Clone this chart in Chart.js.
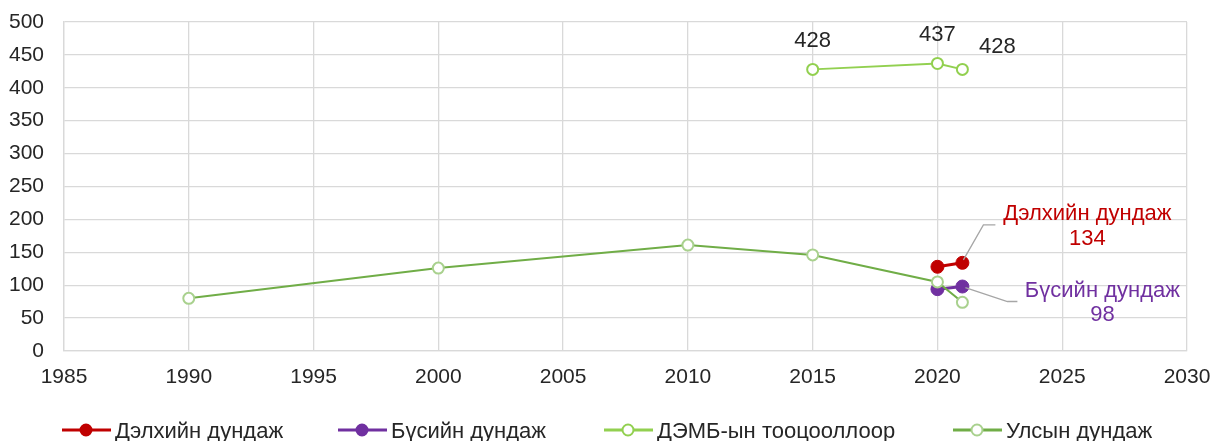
<!DOCTYPE html>
<html lang="mn">
<head>
  <meta charset="UTF-8">
  <title>Дэлхийн, бүсийн болон улсын дундаж</title>
  <script src="https://cdn.jsdelivr.net/npm/chart.js@4.4.1/dist/chart.umd.min.js"></script>
  <style>
    body { margin: 0; background: #fff; }
    .wrap { width: 1214px; height: 441px; }
  </style>
</head>
<body>
  <div class="wrap"><canvas id="chart"></canvas></div>
  <script>
    // data
    const worldYears = [2020, 2021];
    const worldValues = [128, 134];
    const regionYears = [2020, 2021];
    const regionValues = [94, 98];
    const whoYears = [2015, 2020, 2021];
    const whoValues = [428, 437, 428];
    const nationalYears = [1990, 2000, 2010, 2015, 2020, 2021];
    const nationalValues = [80, 126, 161, 146, 105, 74];
    const seriesNames = ['Дэлхийн дундаж', 'Бүсийн дундаж', 'ДЭМБ-ын тооцооллоор', 'Улсын дундаж'];

    const pts = (xs, ys) => xs.map((x, i) => ({ x: x, y: ys[i] }));
    const font = '"Liberation Sans", Arial, sans-serif';

    // labels drawn next to points, plus legend at the bottom
    const extras = {
      id: 'extras',
      afterDatasetsDraw(chart) {
        const c = chart.ctx;
        const xs = chart.scales.x, ys = chart.scales.y;
        c.save();
        c.font = '22px ' + font;
        c.textAlign = 'center';
        c.textBaseline = 'middle';

        // WHO labels
        c.fillStyle = '#262626';
        c.fillText(whoValues[0], xs.getPixelForValue(whoYears[0]), 41);
        c.fillText(whoValues[1], xs.getPixelForValue(whoYears[1]), 35);
        c.fillText(whoValues[2], xs.getPixelForValue(whoYears[2]) + 35, 47);

        // world label with leader
        const wx = xs.getPixelForValue(worldYears[1]), wy = ys.getPixelForValue(worldValues[1]);
        c.strokeStyle = '#A6A6A6';
        c.lineWidth = 1.3;
        c.beginPath();
        c.moveTo(wx + 1, wy - 3);
        c.lineTo(wx + 21, wy - 38);
        c.lineTo(wx + 33, wy - 38);
        c.stroke();
        c.fillStyle = '#C00000';
        c.fillText(seriesNames[0], wx + 125, 214);
        c.fillText(worldValues[1], wx + 125, 239);

        // region label with leader
        const rx = xs.getPixelForValue(regionYears[1]), ry = ys.getPixelForValue(regionValues[1]);
        c.beginPath();
        c.moveTo(rx + 3, ry + 1);
        c.lineTo(rx + 45, ry + 15);
        c.lineTo(rx + 55, ry + 15);
        c.stroke();
        c.fillStyle = '#7030A0';
        c.fillText(seriesNames[1], rx + 140, 291);
        c.fillText(regionValues[1], rx + 140, 315);

        // legend
        const items = [
          { x: 62, ds: chart.data.datasets[0] },
          { x: 338, ds: chart.data.datasets[1] },
          { x: 604, ds: chart.data.datasets[2] },
          { x: 953, ds: chart.data.datasets[3] }
        ];
        const ly = 430;
        c.textAlign = 'left';
        items.forEach(it => {
          c.strokeStyle = it.ds.borderColor;
          c.lineWidth = 3;
          c.beginPath();
          c.moveTo(it.x, ly);
          c.lineTo(it.x + 49, ly);
          c.stroke();
          c.beginPath();
          c.arc(it.x + 24, ly, 5.5, 0, Math.PI * 2);
          c.fillStyle = it.ds.pointBackgroundColor;
          c.fill();
          c.lineWidth = 2;
          c.strokeStyle = it.ds.pointBorderColor;
          c.stroke();
          c.fillStyle = '#262626';
          c.font = '22px ' + font;
          c.fillText(it.ds.label, it.x + 53, ly + 2);
        });
        c.restore();
      }
    };

    new Chart(document.getElementById('chart'), {
      type: 'scatter',
      data: {
        datasets: [
          {
            label: seriesNames[0], data: pts(worldYears, worldValues), showLine: true, order: 1,
            borderColor: '#C00000', borderWidth: 3,
            pointBackgroundColor: '#C00000', pointBorderColor: '#C00000', pointRadius: 6.5, pointBorderWidth: 1
          },
          {
            label: seriesNames[1], data: pts(regionYears, regionValues), showLine: true, order: 2,
            borderColor: '#7030A0', borderWidth: 3,
            pointBackgroundColor: '#7030A0', pointBorderColor: '#7030A0', pointRadius: 6.5, pointBorderWidth: 1
          },
          {
            label: seriesNames[2], data: pts(whoYears, whoValues), showLine: true, order: 3,
            borderColor: '#92D050', borderWidth: 2,
            pointBackgroundColor: '#FFFFFF', pointBorderColor: '#92D050', pointRadius: 5.5, pointBorderWidth: 2
          },
          {
            label: seriesNames[3], data: pts(nationalYears, nationalValues), showLine: true, order: 0,
            borderColor: '#70AD47', borderWidth: 2,
            pointBackgroundColor: '#FFFFFF', pointBorderColor: '#A9D18E', pointRadius: 5.5, pointBorderWidth: 2
          }
        ]
      },
      options: {
        responsive: true,
        maintainAspectRatio: false,
        animation: false,
        layout: { padding: { top: 22, right: 27, bottom: 48, left: 0 } },
        plugins: { legend: { display: false }, tooltip: { enabled: false } },
        scales: {
          x: {
            type: 'linear', min: 1985, max: 2030,
            ticks: { stepSize: 5, color: '#262626', font: { family: font, size: 21 }, padding: 14,
                     callback: v => String(v) },
            grid: { color: '#D9D9D9', lineWidth: 1.3, drawTicks: false },
            border: { color: '#D9D9D9', width: 1.3 },
            afterFit: s => { s.height = 42; s.paddingLeft = 0; s.paddingRight = 0; }
          },
          y: {
            min: 0, max: 500,
            ticks: { stepSize: 50, color: '#262626', font: { family: font, size: 21 }, padding: 20 },
            grid: { color: '#D9D9D9', lineWidth: 1.3, drawTicks: false },
            border: { color: '#D9D9D9', width: 1.3 },
            afterFit: s => { s.width = 64; s.paddingTop = 0; s.paddingBottom = 0; }
          }
        }
      },
      plugins: [extras]
    });
  </script>
</body>
</html>
